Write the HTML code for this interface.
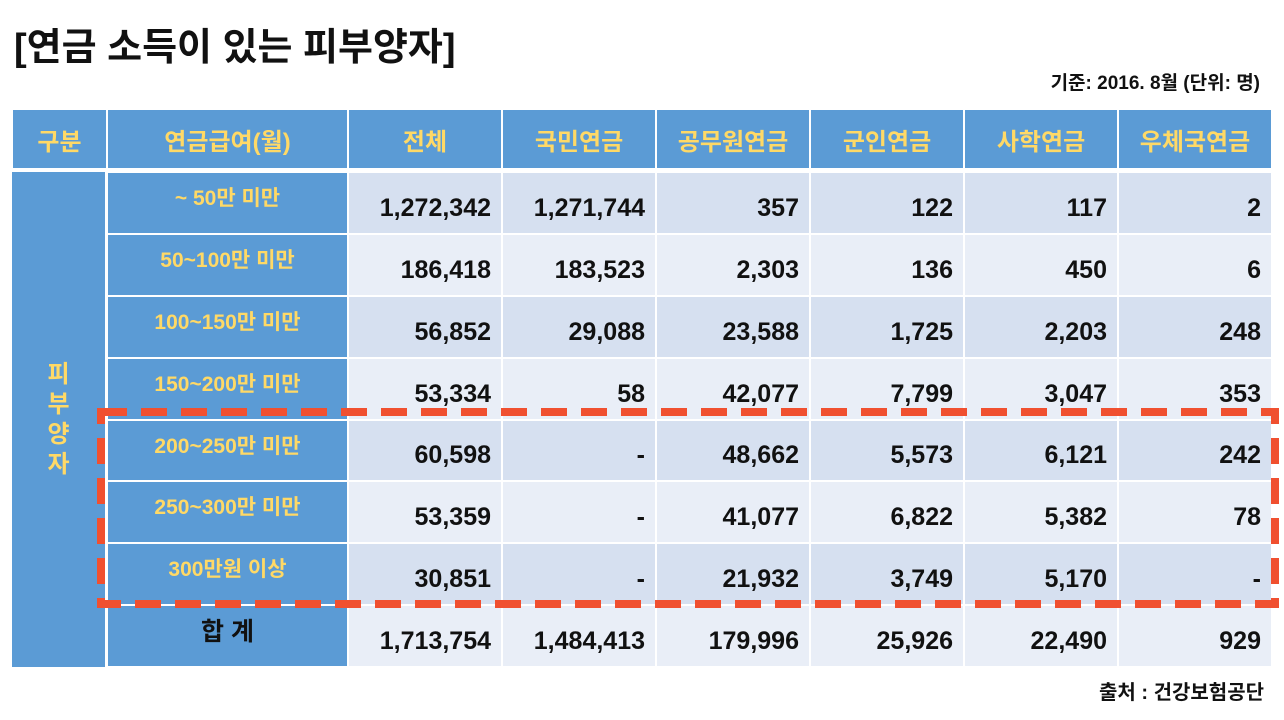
<!DOCTYPE html>
<html><head><meta charset="utf-8"><style>
body{margin:0;width:1284px;height:720px;background:#fff;position:relative;overflow:hidden;font-family:"Liberation Sans","Noto Sans CJK KR",sans-serif;}
.a{position:absolute;box-sizing:border-box;}
.h{background:#5b9bd5;color:#ffd966;font-weight:bold;display:flex;align-items:center;justify-content:center;font-size:24px;}
.c{display:flex;align-items:flex-end;justify-content:flex-end;padding:0 10px 10px 0;font-size:25px;font-weight:bold;color:#111;}
</style></head><body>
<div class="a" style="left:14px;top:16px;font-size:38px;font-weight:bold;color:#111;">[연금 소득이 있는 피부양자]</div>
<div class="a" style="right:24px;top:68px;font-size:19px;font-weight:bold;color:#111;">기준: 2016. 8월 (단위: 명)</div>
<div class="a" style="right:20px;top:676px;font-size:20px;font-weight:bold;color:#111;">출처 : 건강보험공단</div>
<div id="t"></div>
<svg class="a" style="left:0;top:0" width="1284" height="720"><rect x="101" y="412" width="1174" height="192" fill="none" stroke="#f05030" stroke-width="8" stroke-dasharray="26,14"/></svg>
<script>
const headers=["구분","연금급여(월)","전체","국민연금","공무원연금","군인연금","사학연금","우체국연금"];
const rowLabels=["~ 50만 미만","50~100만 미만","100~150만 미만","150~200만 미만","200~250만 미만","250~300만 미만","300만원 이상","합 계"];
const colTotal=["1,272,342","186,418","56,852","53,334","60,598","53,359","30,851","1,713,754"];
const colNational=["1,271,744","183,523","29,088","58","-","-","-","1,484,413"];
const colGov=["357","2,303","23,588","42,077","48,662","41,077","21,932","179,996"];
const colMil=["122","136","1,725","7,799","5,573","6,822","3,749","25,926"];
const colPriv=["117","450","2,203","3,047","6,121","5,382","5,170","22,490"];
const colPost=["2","6","248","353","242","78","-","929"];
const cols=[colTotal,colNational,colGov,colMil,colPriv,colPost];
const xs=[12,107,348,502,656,810,964,1118,1272];
const ys=[172,234,296,358,420,481,543,605,667];
const t=document.getElementById('t');
function mk(cls,x,y,w,h,txt,bg){const d=document.createElement('div');d.className='a '+cls;d.style.cssText=`left:${x}px;top:${y}px;width:${w}px;height:${h}px;`+(bg?`background:${bg};`:'');d.textContent=txt;t.appendChild(d);return d;}
headers.forEach((h,i)=>{const d=mk('h',xs[i]+1,110,xs[i+1]-xs[i]-2,58,h);

});
const g=mk('h',xs[0],ys[0],xs[1]-xs[0]-2,ys[8]-ys[0],'');
g.innerHTML='피<br>부<br>양<br>자';g.style.lineHeight='1.25';g.style.textAlign='center';


rowLabels.forEach((r,j)=>{const d=mk('h',xs[1]+1,ys[j]+1,xs[2]-xs[1]-2,ys[j+1]-ys[j]-2,r);
d.style.fontSize='21px';d.style.paddingBottom='12px';if(j==7){d.style.color='#111';d.style.fontSize='25px';}


cols.forEach((c,i)=>{const e=mk('c',xs[i+2]+1,ys[j]+1,xs[i+3]-xs[i+2]-2,ys[j+1]-ys[j]-2,c[j],j%2==0?'#d6e0f0':'#e9eef7');

});});
</script>
</body></html>
